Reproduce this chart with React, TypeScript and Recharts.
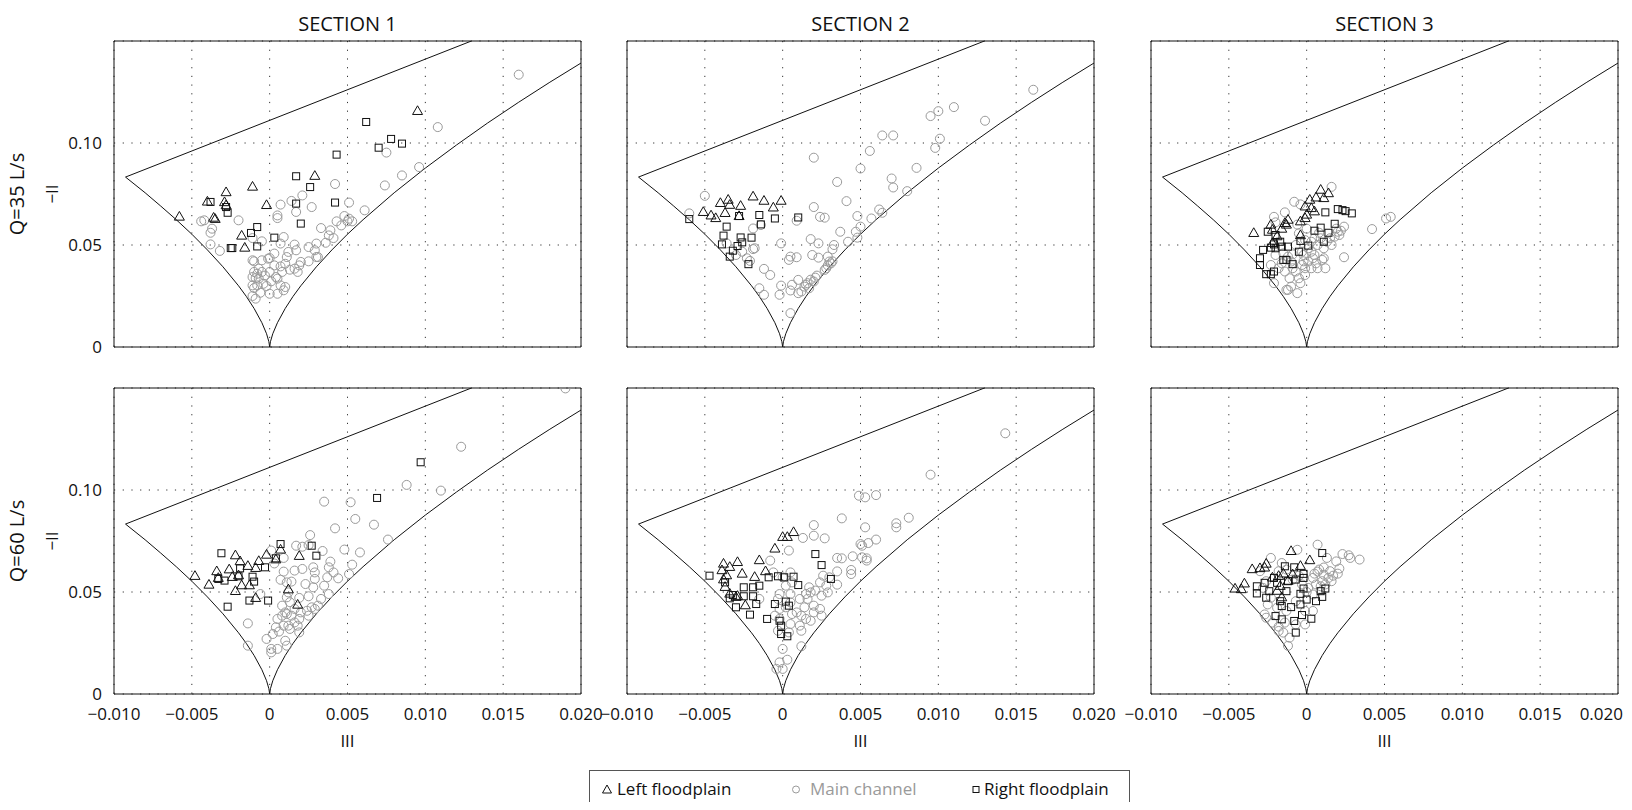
import React from "react";
import {
  ScatterChart,
  Scatter,
  XAxis,
  YAxis,
  CartesianGrid,
  ReferenceArea,
} from "recharts";

type Pair = [number, number];

const X_TICKS = [-0.01, -0.005, 0, 0.005, 0.01, 0.015, 0.02];
const Y_TICKS = [0, 0.05, 0.1];
const Y_MAJOR = [0, 0.05, 0.1, 0.15];
const SECTIONS = ["SECTION 1", "SECTION 2", "SECTION 3"];
const FLOWS = ["Q=35 L/s", "Q=60 L/s"];
// minor tick marks, 10 per labelled step
const X_MINOR = Array.from({ length: 61 }, (_, i) => -0.01 + i * 0.0005);
const Y_MINOR = Array.from({ length: 31 }, (_, i) => i * 0.005);

// Lumley triangle edges (two-component line, then both axisymmetric branches)
const boundary: Pair[] = [
  [0.01296, 0.15], [-0.00926, 0.0833], [-0.008, 0.0756], [-0.007, 0.0691],
  [-0.006, 0.0624], [-0.005, 0.0553], [-0.004, 0.0476], [-0.003, 0.0393],
  [-0.002, 0.03], [-0.0015, 0.0248], [-0.001, 0.0189], [-0.0005, 0.0119],
  [-0.0002, 0.0065], [-0.00005, 0.0026], [0, 0], [0.00005, 0.0026],
  [0.0002, 0.0065], [0.0005, 0.0119], [0.001, 0.0189], [0.0015, 0.0248],
  [0.002, 0.03], [0.003, 0.0393], [0.004, 0.0476], [0.005, 0.0553],
  [0.006, 0.0624], [0.008, 0.0756], [0.01, 0.0877], [0.012, 0.099],
  [0.014, 0.1098], [0.016, 0.12], [0.018, 0.1298], [0.02, 0.1392],
];

// ---- Q=35 L/s ----
const s1q35Main: Pair[] = [
  [0.016, 0.1335], [0.0108, 0.1078], [0.0075, 0.0953], [0.0096, 0.0882], [0.0085, 0.0841],
  [0.0074, 0.0792], [0.0042, 0.0799], [0.0061, 0.067], [0.0051, 0.0708], [0.0048, 0.0642],
  [0.0051, 0.0629], [0.0053, 0.0616], [0.005, 0.0616], [0.0046, 0.0596], [0.0043, 0.0616],
  [0.0033, 0.0583], [0.0039, 0.0572], [0.0038, 0.0547], [0.0041, 0.0534], [0.0036, 0.0511],
  [0.003, 0.0507], [0.0025, 0.049], [0.0029, 0.0474], [0.003, 0.0441], [0.0021, 0.0743],
  [0.0014, 0.0716], [0.0027, 0.0686], [0.0007, 0.0698], [0.0005, 0.0645], [0.0005, 0.0632],
  [0.0017, 0.0662], [0.0009, 0.0539], [0.0007, 0.0507], [0.0016, 0.0502], [0.0017, 0.0474],
  [0.0012, 0.0466], [0.0011, 0.0441], [0.0003, 0.0458], [-0.002, 0.0621], [-0.0044, 0.0616],
  [-0.0042, 0.0621], [-0.0038, 0.056], [-0.0037, 0.058], [-0.0038, 0.0503], [-0.0032, 0.0471],
  [-0.0011, 0.0534], [-0.0005, 0.0518], [-0.0011, 0.0425], [-0.001, 0.042], [-0.0005, 0.0425],
  [-0.0001, 0.0433], [0.0, 0.0436], [0.0003, 0.04], [0.0007, 0.0395], [0.001, 0.0408],
  [0.0013, 0.0379], [0.0016, 0.0384], [0.0018, 0.0368], [0.0019, 0.04], [0.002, 0.0417],
  [0.0025, 0.042], [0.0031, 0.0441], [-0.001, 0.0368], [-0.0008, 0.0359], [-0.0005, 0.0368],
  [-0.0011, 0.0343], [-0.0009, 0.0338], [-0.0004, 0.031], [-0.0008, 0.0302], [-0.0011, 0.0302],
  [-0.001, 0.0289], [-0.0002, 0.0299], [0.0001, 0.0322], [0.0004, 0.0343], [0.0005, 0.0335],
  [0.0007, 0.0302], [0.001, 0.0294], [0.0009, 0.0278], [0.0005, 0.0261], [0.0, 0.0261],
  [-0.0006, 0.0266], [-0.0011, 0.025], [-0.0009, 0.0237], [-0.0007, 0.0335], [0.0, 0.0368],
  [0.0008, 0.0368], [-0.0003, 0.035], [-0.0007, 0.0384],
];
const s1q35Left: Pair[] = [
  [-0.0058, 0.0637], [-0.004, 0.0711], [-0.0028, 0.0757], [-0.0029, 0.0708], [-0.0036, 0.0632],
  [-0.0035, 0.0626], [-0.0011, 0.0784], [-0.0002, 0.0694], [0.0029, 0.0837], [0.0095, 0.1155],
  [-0.0018, 0.0544], [-0.0016, 0.0485], [-0.0028, 0.0693],
];
const s1q35Right: Pair[] = [
  [-0.0038, 0.0711], [-0.0028, 0.0686], [-0.0027, 0.0658], [-0.0025, 0.0485], [-0.0024, 0.0485],
  [-0.0012, 0.0559], [-0.0008, 0.0588], [-0.0008, 0.0493], [0.0003, 0.0536], [0.0017, 0.0837],
  [0.0026, 0.0784], [0.0017, 0.0703], [0.002, 0.0605], [0.0042, 0.0708], [0.0043, 0.0943],
  [0.0062, 0.1103], [0.007, 0.0977], [0.0078, 0.102], [0.0085, 0.0997],
];

const s2q35Main: Pair[] = [
  [0.0161, 0.1261], [0.011, 0.1176], [0.01, 0.1156], [0.0095, 0.1132], [0.013, 0.1109],
  [0.0064, 0.1037], [0.0071, 0.1037], [0.0101, 0.1021], [0.0098, 0.0976], [0.0056, 0.0961],
  [0.002, 0.0928], [0.005, 0.0875], [0.0086, 0.0878], [0.007, 0.0826], [0.0035, 0.0809],
  [0.0071, 0.0782], [0.008, 0.0764], [0.0041, 0.0715], [0.002, 0.0686], [0.0062, 0.0674],
  [0.0064, 0.0658], [0.0048, 0.0642], [0.0057, 0.063], [0.0024, 0.0638], [0.0027, 0.0634],
  [0.0009, 0.0619], [0.0037, 0.0565], [0.0047, 0.0565], [0.005, 0.059], [0.0042, 0.0516],
  [0.0048, 0.0536], [0.0033, 0.05], [0.0032, 0.0479], [0.0018, 0.0529], [0.0023, 0.0508],
  [-0.0001, 0.0508], [0.0019, 0.0451], [0.0023, 0.0438], [0.0005, 0.0443], [0.0004, 0.0427],
  [0.0009, 0.044], [0.0029, 0.0443], [0.003, 0.0419], [0.0028, 0.0386], [0.0027, 0.0378],
  [0.0031, 0.041], [-0.0019, 0.048], [-0.0018, 0.0484], [-0.0026, 0.0467], [-0.0023, 0.0435],
  [-0.0021, 0.0422], [-0.0012, 0.0383], [-0.0008, 0.0353], [-0.005, 0.0741], [-0.006, 0.0655],
  [-0.0036, 0.0508], [-0.003, 0.0451], [0.0022, 0.035], [0.002, 0.0321], [0.0016, 0.0313],
  [0.0014, 0.0296], [0.0012, 0.0272], [0.001, 0.0264], [0.0017, 0.0288], [0.001, 0.0329],
  [0.0006, 0.0305], [-0.0001, 0.0301], [0.0005, 0.0277], [-0.0002, 0.0256], [-0.0012, 0.0256],
  [-0.0015, 0.0288], [0.0005, 0.0166], [-0.0019, 0.0581], [-0.0014, 0.0598], [0.0018, 0.033],
  [0.0021, 0.034], [0.0015, 0.0305], [0.0029, 0.04], [0.0032, 0.042],
];
const s2q35Left: Pair[] = [
  [-0.0051, 0.066], [-0.0046, 0.0643], [-0.0043, 0.063], [-0.004, 0.0704], [-0.0037, 0.0655],
  [-0.0035, 0.072], [-0.0034, 0.0695], [-0.0027, 0.069], [-0.0028, 0.064], [-0.0019, 0.0736],
  [-0.0012, 0.0715], [-0.0006, 0.0682], [-0.0001, 0.0715],
];
const s2q35Right: Pair[] = [
  [-0.006, 0.0627], [-0.0028, 0.0642], [-0.0015, 0.0647], [-0.0014, 0.0601], [-0.0005, 0.063],
  [0.001, 0.0635], [-0.0036, 0.059], [-0.0038, 0.0546], [-0.0039, 0.0503], [-0.0027, 0.0537],
  [-0.002, 0.0536], [-0.0026, 0.0513], [-0.0029, 0.0495], [-0.0032, 0.0472], [-0.0034, 0.0443],
  [-0.0022, 0.0406],
];

const s3q35Main: Pair[] = [
  [0.0054, 0.0638], [0.0051, 0.063], [0.0042, 0.0578], [0.0024, 0.044], [0.0016, 0.0785],
  [-0.0008, 0.0712], [-0.0004, 0.0699], [-0.0014, 0.066], [-0.0021, 0.0638], [-0.002, 0.0611],
  [0.0024, 0.059], [0.002, 0.0565], [0.0021, 0.0549], [-0.0005, 0.0557], [-0.0007, 0.05],
  [-0.0009, 0.0454], [-0.0016, 0.041], [-0.002, 0.0451], [-0.0023, 0.0402], [-0.0021, 0.0313],
  [-0.0013, 0.028], [-0.0006, 0.0264], [-0.001, 0.0296], [-0.0004, 0.0313], [-0.0001, 0.0353],
  [0.0003, 0.0386], [0.0007, 0.0386], [0.0012, 0.0386], [0.001, 0.0427], [0.0004, 0.0435],
  [0.0001, 0.0419], [-0.0002, 0.0451], [0.0003, 0.0467], [0.0007, 0.05], [0.0011, 0.0484],
  [0.0013, 0.0516], [0.0016, 0.05], [0.0015, 0.0533], [0.0018, 0.0541], [0.0009, 0.0533],
  [0.0005, 0.0533], [-0.0001, 0.0524], [-0.0003, 0.0402], [-0.0007, 0.037], [-0.0011, 0.0337],
  [-0.0005, 0.0337], [-0.0001, 0.0386], [-0.0009, 0.0386], [-0.0014, 0.037], [0.0011, 0.0435],
  [0.0005, 0.0451], [0.0001, 0.0484], [-0.0003, 0.0467], [0.0003, 0.0516], [-0.001, 0.0419],
  [-0.0018, 0.0386], [-0.0012, 0.0443], [-0.0015, 0.0459], [0.0019, 0.058], [0.0022, 0.057],
  [-0.0006, 0.06], [0.0008, 0.056], [0.0, 0.058], [-0.0002, 0.042], [0.0006, 0.041],
  [-0.0012, 0.028],
];
const s3q35Left: Pair[] = [
  [-0.0034, 0.0557], [-0.0023, 0.0598], [-0.0022, 0.0573], [-0.0016, 0.0578], [-0.0014, 0.0606],
  [-0.0012, 0.0622], [-0.0013, 0.0598], [-0.0004, 0.0614], [-0.0001, 0.063], [0.0, 0.0647],
  [-0.0001, 0.0687], [0.0002, 0.072], [0.0003, 0.0679], [0.0005, 0.0663], [0.0006, 0.0731],
  [0.0009, 0.0769], [0.0011, 0.0728], [0.0014, 0.0752], [-0.0004, 0.0546], [-0.0019, 0.0541],
  [-0.0022, 0.0508],
];
const s3q35Right: Pair[] = [
  [-0.0025, 0.0565], [-0.002, 0.0549], [-0.0017, 0.0516], [-0.0028, 0.0476], [-0.0023, 0.0487],
  [-0.002, 0.0484], [-0.0016, 0.0492], [-0.0012, 0.0492], [-0.003, 0.0435], [-0.003, 0.0402],
  [-0.0026, 0.0357], [-0.0023, 0.0357], [-0.0021, 0.037], [-0.0015, 0.0427], [-0.0013, 0.0427],
  [-0.0009, 0.0406], [-0.0005, 0.0467], [-0.0004, 0.052], [0.0001, 0.0497], [0.0005, 0.057],
  [0.0009, 0.0585], [0.0012, 0.066], [0.0014, 0.056], [0.0011, 0.0516], [0.0018, 0.0604],
  [0.002, 0.0676], [0.0023, 0.0671], [0.0025, 0.0666], [0.0029, 0.0655], [-0.0021, 0.0503],
];

// ---- Q=60 L/s ----
const s1q60Main: Pair[] = [
  [0.019, 0.1498], [0.0123, 0.1212], [0.0088, 0.1025], [0.011, 0.0997], [0.0035, 0.0943],
  [0.0052, 0.094], [0.0055, 0.0858], [0.0067, 0.083], [0.0042, 0.0812], [0.0076, 0.0757],
  [0.0026, 0.0779], [0.0017, 0.0727], [0.0021, 0.0722], [0.0025, 0.073], [0.0034, 0.0701],
  [0.0048, 0.0708], [0.0058, 0.0694], [0.0009, 0.0667], [0.0001, 0.0703], [0.0039, 0.0649],
  [0.0053, 0.0634], [0.0016, 0.0605], [0.0021, 0.0613], [0.0028, 0.0621], [0.0029, 0.0596],
  [0.0038, 0.0621], [0.0041, 0.0596], [0.0044, 0.0567], [0.0051, 0.0588], [0.0037, 0.0572],
  [0.0029, 0.0564], [0.0023, 0.0539], [0.0028, 0.0523], [0.0035, 0.0531], [0.0038, 0.049],
  [0.0033, 0.0466], [0.0025, 0.0479], [0.0019, 0.0471], [0.0011, 0.0547], [0.0014, 0.0551],
  [0.0012, 0.0498], [0.0011, 0.0474], [-0.0006, 0.049], [-0.0014, 0.0346], [-0.0014, 0.0237],
  [0.0001, 0.0221], [0.0001, 0.0204], [0.0005, 0.0221], [0.0011, 0.0237], [-0.0002, 0.027],
  [0.0002, 0.0294], [0.0006, 0.0306], [0.001, 0.0261], [0.0019, 0.0302], [0.0012, 0.0335],
  [0.0016, 0.0351], [0.0019, 0.0368], [0.0025, 0.0384], [0.0029, 0.0417], [0.0031, 0.0433],
  [0.0005, 0.0368], [0.0008, 0.0384], [0.001, 0.04], [0.0014, 0.0384], [0.0016, 0.0417],
  [0.002, 0.04], [0.0024, 0.0408], [0.0004, 0.0327], [0.0009, 0.0335], [0.0013, 0.0319],
  [0.0018, 0.0335], [0.0027, 0.0425], [0.0011, 0.0392], [0.0008, 0.0433], [0.0007, 0.056],
  [0.0013, 0.045], [0.0009, 0.06], [0.0003, 0.064],
];
const s1q60Left: Pair[] = [
  [-0.0048, 0.0577], [-0.0039, 0.0534], [-0.0034, 0.06], [-0.0026, 0.0609], [-0.0022, 0.0678],
  [-0.0019, 0.0649], [-0.0014, 0.0626], [-0.0009, 0.0616], [-0.0007, 0.065], [-0.0002, 0.0681],
  [0.0007, 0.0706], [0.0004, 0.0658], [0.0019, 0.0675], [-0.0024, 0.0572], [-0.002, 0.058],
  [-0.0018, 0.0531], [-0.0013, 0.0531], [-0.0022, 0.0503], [-0.0009, 0.0469], [0.0012, 0.0511],
  [0.0018, 0.0436], [-0.0033, 0.0567],
];
const s1q60Right: Pair[] = [
  [-0.0031, 0.069], [-0.0033, 0.0564], [-0.0029, 0.0556], [-0.0019, 0.0616], [-0.002, 0.0577],
  [-0.0011, 0.0575], [-0.001, 0.0551], [-0.0003, 0.0621], [0.0004, 0.0665], [0.0007, 0.0735],
  [0.0027, 0.0727], [0.003, 0.0678], [-0.0013, 0.0458], [-0.0001, 0.0458], [-0.0027, 0.0428],
  [0.0097, 0.1136], [0.0069, 0.0961],
];

const s2q60Main: Pair[] = [
  [0.0143, 0.1278], [0.0095, 0.1075], [0.0049, 0.0972], [0.0053, 0.0964], [0.006, 0.0975],
  [0.0038, 0.0861], [0.002, 0.0828], [0.0053, 0.0817], [0.0073, 0.0837], [0.0073, 0.0817],
  [0.0081, 0.0864], [0.0013, 0.0765], [0.002, 0.0776], [0.0027, 0.0763], [0.0004, 0.0703],
  [0.005, 0.0735], [0.0051, 0.0727], [0.0055, 0.074], [0.006, 0.0757], [-0.0008, 0.0654],
  [0.0035, 0.0667], [0.0038, 0.0665], [0.0045, 0.0675], [0.0051, 0.067], [0.0054, 0.0654],
  [0.0054, 0.0665], [0.0035, 0.0601], [0.0044, 0.0608], [0.0044, 0.0588], [0.003, 0.0572],
  [0.0026, 0.058], [0.0024, 0.0547], [0.0035, 0.0536], [0.0028, 0.0531], [0.0029, 0.0498],
  [0.0017, 0.0523], [0.0015, 0.049], [0.0018, 0.0498], [0.0021, 0.0507], [0.0025, 0.0482],
  [0.0016, 0.0466], [0.0011, 0.0466], [0.0005, 0.049], [-0.0002, 0.049], [-0.0003, 0.0466],
  [-0.0015, 0.0466], [0.0002, 0.0425], [0.0006, 0.0392], [0.0012, 0.0384], [0.0015, 0.0368],
  [0.0018, 0.0359], [0.0024, 0.0417], [0.0025, 0.0384], [0.002, 0.04], [0.0005, 0.0449],
  [-0.0002, 0.0417], [-0.0005, 0.0384], [-0.0003, 0.031], [0.0004, 0.0302], [0.0012, 0.031],
  [0.0, 0.0221], [0.0012, 0.0234], [0.0003, 0.0168], [-0.0002, 0.0155], [-0.0004, 0.0123],
  [0.0, 0.0123], [-0.0002, 0.0368], [0.0009, 0.04], [0.0014, 0.0425], [0.002, 0.0433],
  [0.0005, 0.0343], [0.0011, 0.0335], [-0.0006, 0.0596], [0.0, 0.0572], [0.0005, 0.0596],
  [0.0002, 0.0531], [0.0006, 0.0547],
];
const s2q60Left: Pair[] = [
  [-0.0038, 0.0637], [-0.0034, 0.0621], [-0.0029, 0.0645], [-0.0039, 0.0605], [-0.0036, 0.058],
  [-0.0038, 0.056], [-0.0037, 0.0523], [-0.0034, 0.049], [-0.0029, 0.0479], [-0.0026, 0.0588],
  [-0.0018, 0.0572], [-0.0015, 0.0654], [-0.0011, 0.06], [-0.0005, 0.0711], [0.0, 0.0768],
  [0.0003, 0.0768], [0.0007, 0.0792], [-0.0024, 0.0433], [-0.003, 0.0474],
];
const s2q60Right: Pair[] = [
  [-0.0047, 0.058], [-0.0037, 0.0547], [-0.0032, 0.0485], [-0.0034, 0.0469], [-0.003, 0.0425],
  [-0.0025, 0.0523], [-0.0019, 0.0523], [-0.0019, 0.0479], [-0.0025, 0.0479], [-0.0021, 0.0389],
  [-0.0017, 0.0441], [-0.0015, 0.0531], [-0.0009, 0.0572], [-0.0003, 0.0577], [0.0001, 0.0572],
  [0.0007, 0.0575], [0.001, 0.0534], [0.0021, 0.0686], [0.0025, 0.0632], [0.0031, 0.0564],
  [-0.0005, 0.0441], [0.0002, 0.0453], [0.0004, 0.0433], [-0.001, 0.0368], [-0.0002, 0.0359],
  [-0.0001, 0.0335], [-0.0001, 0.0294], [0.0003, 0.0283],
];

const s3q60Main: Pair[] = [
  [0.0007, 0.0732], [-0.0006, 0.0707], [-0.0023, 0.0667], [-0.003, 0.0602], [0.0023, 0.0686],
  [0.0027, 0.068], [0.0028, 0.0667], [0.0034, 0.0659], [0.0019, 0.065], [0.0021, 0.0615],
  [0.0013, 0.0667], [0.0008, 0.061], [0.0011, 0.0585], [0.0014, 0.0569], [0.001, 0.0553],
  [0.0004, 0.0569], [0.0006, 0.0537], [0.0001, 0.052], [-0.0003, 0.0537], [-0.0009, 0.0561],
  [-0.0016, 0.0642], [-0.0013, 0.061], [-0.0018, 0.0602], [-0.0026, 0.0553], [-0.0028, 0.052],
  [-0.0023, 0.0472], [-0.0025, 0.0439], [-0.0027, 0.039], [-0.0026, 0.0374], [-0.0022, 0.035],
  [-0.0018, 0.0309], [-0.0015, 0.0301], [-0.0012, 0.0236], [-0.0011, 0.0276], [-0.0007, 0.0341],
  [-0.0001, 0.0407], [0.0004, 0.0407], [-0.0001, 0.0341], [-0.0019, 0.0423], [-0.0013, 0.0407],
  [-0.0007, 0.0455], [0.0004, 0.0488], [0.0009, 0.0528], [0.0015, 0.0602], [0.0016, 0.0553],
  [0.0012, 0.0537], [0.0017, 0.058], [0.002, 0.059], [0.0005, 0.059], [-0.0005, 0.058],
  [-0.0018, 0.033], [-0.0014, 0.035], [0.0, 0.05], [0.0007, 0.06], [0.0011, 0.062],
];
const s3q60Left: Pair[] = [
  [-0.0046, 0.0515], [-0.0042, 0.0512], [-0.004, 0.054], [-0.0035, 0.061], [-0.003, 0.0615],
  [-0.0027, 0.0618], [-0.0026, 0.0637], [-0.001, 0.0699], [-0.0004, 0.0626], [0.0002, 0.0654],
  [-0.0022, 0.0569], [-0.0018, 0.0577], [-0.0015, 0.0589], [-0.0012, 0.0553], [-0.0019, 0.0504],
  [-0.0017, 0.0528], [-0.0016, 0.0472], [-0.0009, 0.0585],
];
const s3q60Right: Pair[] = [
  [-0.0032, 0.0528], [-0.0032, 0.0493], [-0.0026, 0.0472], [-0.0024, 0.0504], [-0.0027, 0.0545],
  [-0.0021, 0.0569], [-0.0019, 0.0545], [-0.0014, 0.0626], [-0.0008, 0.0621], [-0.0002, 0.0589],
  [-0.0002, 0.0517], [-0.0004, 0.0491], [0.0, 0.0463], [0.0006, 0.0455], [0.0009, 0.0504],
  [0.0012, 0.0517], [0.001, 0.0476], [0.001, 0.0691], [-0.0017, 0.0455], [-0.0016, 0.0431],
  [-0.001, 0.0426], [-0.0004, 0.0439], [-0.002, 0.0382], [-0.0016, 0.0366], [-0.0008, 0.0358],
  [-0.0003, 0.0387], [0.0003, 0.0369], [-0.0007, 0.0301], [-0.0012, 0.0553], [-0.0007, 0.0561],
  [-0.0002, 0.0569], [-0.0013, 0.0504],
];

const PANELS = [
  [
    { main: s1q35Main, left: s1q35Left, right: s1q35Right },
    { main: s2q35Main, left: s2q35Left, right: s2q35Right },
    { main: s3q35Main, left: s3q35Left, right: s3q35Right },
  ],
  [
    { main: s1q60Main, left: s1q60Left, right: s1q60Right },
    { main: s2q60Main, left: s2q60Left, right: s2q60Right },
    { main: s3q60Main, left: s3q60Left, right: s3q60Right },
  ],
];

const FONT = "'Open Sans', 'Noto Sans', sans-serif";
const PLOT_W = 467;
const PLOT_H = 306;
const COL_X = [106, 619, 1143];
const ROW_Y = [33, 380];
const RIGHT_PAD = [30, 30, 12];
const GRAY = "#9a9a9a";
const X_DOMAIN: [number, number] = [-0.01, 0.02];
const Y_DOMAIN: [number, number] = [0, 0.15];

const toPts = (a: Pair[]) => a.map(([x, y]) => ({ x, y }));

const fmtX = (v: number) =>
  v === 0 ? "0" : (v < 0 ? "\u2212" : "") + Math.abs(v).toFixed(3);
const fmtY = (v: number) => (v === 0 ? "0" : v.toFixed(2));

const NoTick = () => <g />;
const tickFont = { fill: "#111", fontSize: 17, fontFamily: FONT };

// bottom tick labels; the last label of the right-hand column is kept inside the page
const makeXTick = (lastCol: boolean) => (p: any) => {
  const v = p.payload.value;
  const pull = lastCol && v === X_TICKS[X_TICKS.length - 1];
  return (
    <text
      x={pull ? p.x + 11 : p.x}
      y={p.y}
      dy="0.71em"
      textAnchor={pull ? "end" : "middle"}
      {...tickFont}
    >
      {fmtX(v)}
    </text>
  );
};

const CircleMark = (p: any) => (
  <circle cx={p.cx} cy={p.cy} r={4.5} fill="none" stroke={GRAY} strokeWidth={1} />
);
const TriangleMark = (p: any) => (
  <polygon
    points={`${p.cx},${p.cy - 5.6} ${p.cx - 5},${p.cy + 3.1} ${p.cx + 5},${p.cy + 3.1}`}
    fill="none"
    stroke="#111"
    strokeWidth={1}
  />
);
const SquareMark = (p: any) => (
  <rect x={p.cx - 3.5} y={p.cy - 3.5} width={7} height={7} fill="none" stroke="#111" strokeWidth={1} />
);

// inward tick marks on all four sides of the box
const tickMarks = () => {
  const out: React.ReactNode[] = [];
  [
    { id: "maj", ticks: X_TICKS, size: 5 },
    { id: "min", ticks: X_MINOR, size: 2.5 },
  ].forEach((t) => {
    (["top", "bottom"] as const).forEach((o) => {
      out.push(
        <XAxis
          key={`x-${t.id}-${o}`}
          xAxisId={`x-${t.id}-${o}`}
          orientation={o}
          mirror
          type="number"
          domain={X_DOMAIN}
          allowDataOverflow
          ticks={t.ticks}
          tick={NoTick}
          tickSize={t.size}
          tickLine={{ stroke: "#333", strokeWidth: 1 }}
          axisLine={false}
          height={0}
        />
      );
    });
  });
  [
    { id: "maj", ticks: Y_MAJOR, size: 5 },
    { id: "min", ticks: Y_MINOR, size: 2.5 },
  ].forEach((t) => {
    (["left", "right"] as const).forEach((o) => {
      out.push(
        <YAxis
          key={`y-${t.id}-${o}`}
          yAxisId={`y-${t.id}-${o}`}
          orientation={o}
          mirror
          type="number"
          domain={Y_DOMAIN}
          allowDataOverflow
          ticks={t.ticks}
          tick={NoTick}
          tickSize={t.size}
          tickLine={{ stroke: "#333", strokeWidth: 1 }}
          axisLine={false}
          width={0}
        />
      );
    });
  });
  return out;
};

const Panel = ({
  data,
  row,
  col,
}: {
  data: { main: Pair[]; left: Pair[]; right: Pair[] };
  row: number;
  col: number;
}) => {
  const showX = row === 1;
  const showY = col === 0;
  const pad = RIGHT_PAD[col];
  return (
    <div style={{ position: "absolute", left: COL_X[col] - 60, top: ROW_Y[row] - 10 }}>
      <ScatterChart
        width={PLOT_W + 60 + pad}
        height={PLOT_H + 50}
        margin={{ top: 10, right: pad, left: 0, bottom: 0 }}
      >
        <CartesianGrid stroke="#333" strokeDasharray="1.2 7.5" />
        <XAxis
          dataKey="x"
          type="number"
          domain={X_DOMAIN}
          allowDataOverflow
          ticks={X_TICKS}
          tickFormatter={fmtX}
          tick={showX ? makeXTick(col === 2) : NoTick}
          tickLine={false}
          axisLine={false}
          tickSize={0}
          tickMargin={14}
          height={40}
        />
        <YAxis
          dataKey="y"
          type="number"
          domain={Y_DOMAIN}
          allowDataOverflow
          ticks={Y_TICKS}
          tickFormatter={fmtY}
          tick={showY ? tickFont : NoTick}
          tickLine={false}
          axisLine={false}
          tickSize={0}
          tickMargin={12}
          width={60}
        />
        {tickMarks()}
        <ReferenceArea
          x1={-0.01}
          x2={0.02}
          y1={0}
          y2={0.15}
          fill="none"
          stroke="#111"
          strokeWidth={1}
          ifOverflow="visible"
        />
        <Scatter
          data={toPts(boundary)}
          line={{ stroke: "#111", strokeWidth: 1 }}
          shape={() => <g />}
          isAnimationActive={false}
        />
        <Scatter data={toPts(data.main)} shape={CircleMark} isAnimationActive={false} />
        <Scatter data={toPts(data.left)} shape={TriangleMark} isAnimationActive={false} />
        <Scatter data={toPts(data.right)} shape={SquareMark} isAnimationActive={false} />
      </ScatterChart>
    </div>
  );
};

export default function App() {
  return (
    <div
      style={{
        position: "relative",
        width: 1616,
        height: 794,
        fontFamily: FONT,
        color: "#111",
        background: "#fff",
      }}
    >
      {SECTIONS.map((s, i) => (
        <div
          key={s}
          style={{
            position: "absolute",
            left: COL_X[i],
            top: 3,
            width: PLOT_W,
            textAlign: "center",
            fontSize: 20,
            lineHeight: "26px",
          }}
        >
          {s}
        </div>
      ))}

      {PANELS.map((r, ri) => r.map((d, ci) => <Panel key={`${ri}-${ci}`} data={d} row={ri} col={ci} />))}

      {/* axis titles, drawn in page coordinates */}
      <svg
        width={1632}
        height={810}
        style={{ position: "absolute", left: -8, top: -8, pointerEvents: "none" }}
      >
        {FLOWS.map((f, i) => {
          const cy = ROW_Y[i] + 8 + PLOT_H / 2;
          return (
            <g key={f} fontFamily={FONT} fill="#111">
              <text
                transform={`translate(16,${cy}) rotate(-90)`}
                textAnchor="middle"
                dominantBaseline="central"
                fontSize={20}
              >
                {f}
              </text>
              <text
                transform={`translate(51,${cy}) rotate(-90)`}
                textAnchor="middle"
                dominantBaseline="central"
                fontSize={17}
              >
                {"\u2212II"}
              </text>
            </g>
          );
        })}
        {COL_X.map((x, i) => (
          <text
            key={i}
            x={x + 8 + PLOT_W / 2}
            y={740}
            textAnchor="middle"
            dominantBaseline="central"
            fontSize={17}
            fontFamily={FONT}
            fill="#111"
          >
            III
          </text>
        ))}
      </svg>

      <div
        style={{
          position: "absolute",
          left: 581,
          top: 762,
          width: 539,
          height: 36,
          border: "1px solid #555",
          fontSize: 17,
        }}
      >
        <svg width={539} height={36} style={{ position: "absolute", left: 0, top: 0 }}>
          <polygon points="17,14 12.5,22 21.5,22" fill="none" stroke="#111" strokeWidth={1} />
          <circle cx={206} cy={18.5} r={3.5} fill="none" stroke={GRAY} strokeWidth={1} />
          <rect x={383} y={15.5} width={6} height={6} fill="none" stroke="#111" strokeWidth={1} />
        </svg>
        <span style={{ position: "absolute", left: 27, top: 6, lineHeight: "24px" }}>Left floodplain</span>
        <span style={{ position: "absolute", left: 220, top: 6, lineHeight: "24px", color: GRAY }}>
          Main channel
        </span>
        <span style={{ position: "absolute", left: 394, top: 6, lineHeight: "24px" }}>Right floodplain</span>
      </div>
    </div>
  );
}
